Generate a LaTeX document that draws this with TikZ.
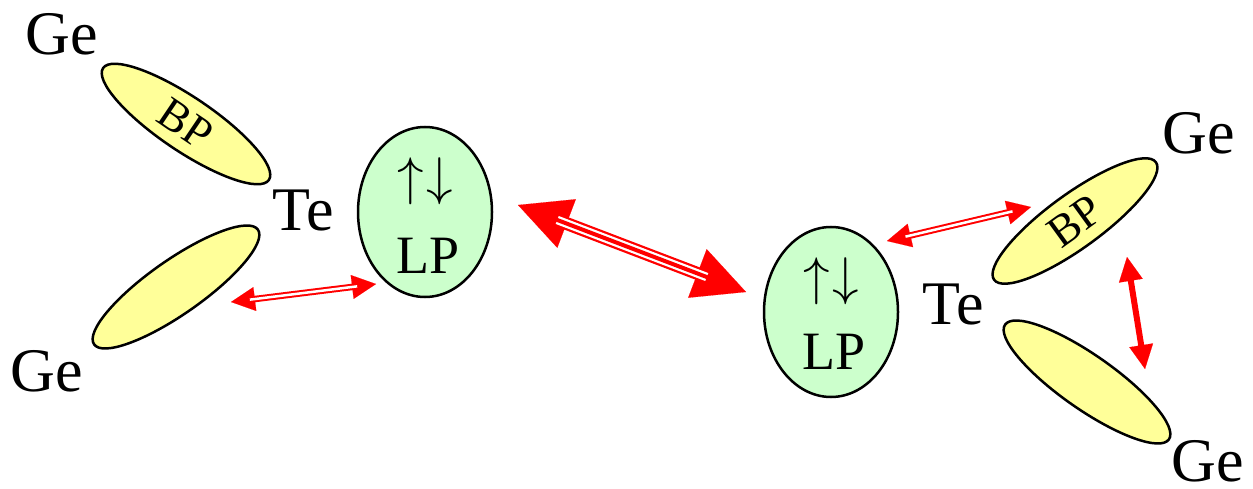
\documentclass[tikz,border=0pt]{standalone}
\usepackage{fontspec}
\setmainfont{Liberation Serif}
\usetikzlibrary{shapes.geometric,arrows.meta}
\definecolor{bpfill}{HTML}{FFFF99}
\definecolor{lpfill}{HTML}{CCFFCC}
\definecolor{arrred}{HTML}{FF0000}
\newcommand{\spinpair}{\scalebox{5.3}{$\uparrow\mkern1mu\downarrow$}}
\tikzset{
  bp/.style={ellipse,draw=black,line width=2.5pt,fill=bpfill,minimum width=200pt,minimum height=54pt,inner sep=0pt,font=\fontsize{45}{50}\selectfont},
  lp/.style={ellipse,draw=black,line width=2.5pt,fill=lpfill,minimum width=134pt,minimum height=170pt,inner sep=0pt},
  lbl/.style={inner sep=0pt,font=\fontsize{62}{70}\selectfont},
  lptxt/.style={inner sep=0pt,font=\fontsize{54}{60}\selectfont},
  spin/.style={inner sep=0pt},
  head/.style={draw=arrred,line width=0.1pt,arrows={Triangle[length=#1,width=#1]-Triangle[length=#1,width=#1]},arrred},
}
\begin{document}
\begin{tikzpicture}[x=1pt,y=-1pt]
\useasboundingbox (0,0) rectangle (1253,489);
% left molecule
\node[bp,rotate=-34] (bpL) at (186,124) {BP};
\node[bp,rotate=35] (bpL2) at (176,287) {};
\node[lbl] (geL1) at (62,34) {Ge};
\node[lbl] (geL2) at (47,371) {Ge};
\node[lbl] (teL) at (303,211) {Te};
\node[lp] (lpL) at (425,212) {};
\node[spin] (arL) at (425,181) {\spinpair};
\node[lptxt] (lpLt) at (428,256) {LP};
% right molecule
\node[lp] (lpR) at (831,312) {};
\node[spin] (arR) at (831,281) {\spinpair};
\node[lptxt] (lpRt) at (834,352) {LP};
\node[bp,rotate=36] (bpR) at (1075,221) {BP};
\node[bp,rotate=-35] (bpR2) at (1087,382) {};
\node[lbl] (geR1) at (1199,133) {Ge};
\node[lbl] (geR2) at (1208,461) {Ge};
\node[lbl] (teR) at (953,305) {Te};
% arrows
\coordinate (m1) at (518,205);
\coordinate (m2) at (746,292);
\draw[head=52pt] (m1) -- (m2);
\draw[arrred,line width=13pt,shorten <=40pt,shorten >=40pt] (m1) -- (m2);
\draw[white,line width=8.5pt,shorten <=42pt,shorten >=42pt] (m1) -- (m2);
\draw[arrred,line width=4pt,shorten <=40pt,shorten >=40pt] (m1) -- (m2);

\coordinate (a1) at (231,302);
\coordinate (a2) at (376,284);
\draw[head=24pt] (a1) -- (a2);
\draw[arrred,line width=6.5pt,shorten <=18pt,shorten >=18pt] (a1) -- (a2);
\draw[white,line width=2.5pt,shorten <=19pt,shorten >=19pt] (a1) -- (a2);

\coordinate (b1) at (887,241);
\coordinate (b2) at (1031,207);
\draw[head=24pt] (b1) -- (b2);
\draw[arrred,line width=6.5pt,shorten <=18pt,shorten >=18pt] (b1) -- (b2);
\draw[white,line width=2.5pt,shorten <=19pt,shorten >=19pt] (b1) -- (b2);

\coordinate (c1) at (1127,257);
\coordinate (c2) at (1145,369);
\draw[head=24pt] (c1) -- (c2);
\draw[arrred,line width=6pt,shorten <=18pt,shorten >=18pt] (c1) -- (c2);
\end{tikzpicture}
\end{document}
